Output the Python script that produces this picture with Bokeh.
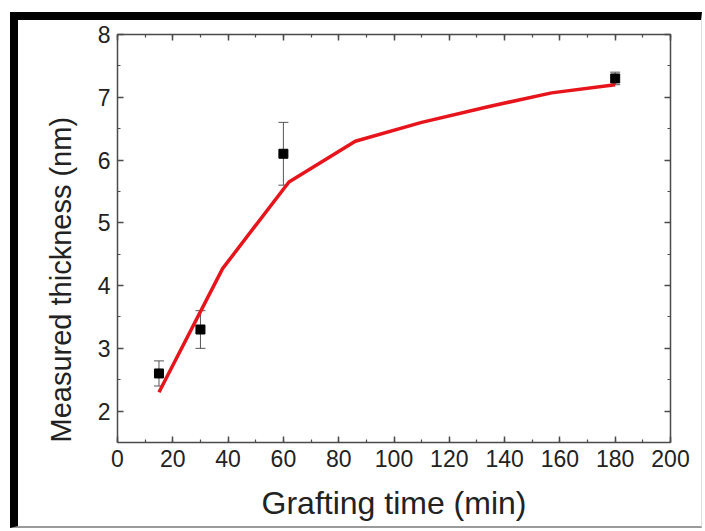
from bokeh.plotting import figure
from bokeh.models import LinearAxis, Range1d, FixedTicker, Whisker, ColumnDataSource, Title
from bokeh.embed import file_html
from bokeh.resources import INLINE

# measured data (squares with error bars)
time_min = [15, 30, 60, 180]
thickness = [2.6, 3.3, 6.1, 7.3]
thickness_err = [0.2, 0.3, 0.5, 0.1]

# fitted curve (red line)
fit_time = [15, 38, 62, 86, 110, 134, 157, 180]
fit_thickness = [2.3, 4.27, 5.65, 6.3, 6.6, 6.85, 7.07, 7.2]

x_ticks = [0, 20, 40, 60, 80, 100, 120, 140, 160, 180, 200]
y_ticks = [2, 3, 4, 5, 6, 7, 8]
x_label = "Grafting time (min)"
y_label = "Measured thickness (nm)"

FONT = "Liberation Sans"
AX = "#4a4a4a"

W, H = 692, 516
p = figure(width=W, height=H, output_backend="svg", toolbar_location=None,
           x_range=Range1d(0, 200), y_range=Range1d(1.5, 8),
           min_border_left=99, min_border_right=40, min_border_top=14, min_border_bottom=94)
# black picture frame on the top and left, as in the reference
p.styles = {"border-top": "8px solid black", "border-left": "8px solid black",
            "border-bottom": "2px solid #9a9a9a", "border-right": "1px solid #dddddd",
            "margin-top": "12px", "margin-left": "10px"}
p.xgrid.visible = False
p.ygrid.visible = False
p.outline_line_color = None
p.background_fill_color = "white"
p.border_fill_color = "white"

def style_axis(ax, show_labels):
    ax.axis_line_color = AX
    ax.axis_line_width = 1.5
    ax.major_tick_line_color = AX
    ax.minor_tick_line_color = AX
    ax.major_tick_line_width = 1.5
    ax.minor_tick_line_width = 1.2
    ax.major_tick_in = 6
    ax.major_tick_out = 0
    ax.minor_tick_in = 3
    ax.minor_tick_out = 0
    ax.major_label_text_font = FONT
    ax.major_label_text_font_size = "23px" if show_labels else "0px"
    ax.major_label_text_color = "#222222" if show_labels else None
    ax.axis_label_text_font = FONT
    ax.axis_label_text_font_size = "32px"
    ax.axis_label_text_font_style = "normal"
    ax.axis_label_text_color = "#222222"

x_minor = list(range(0, 201, 10))
y_minor = [1.5 + 0.5 * i for i in range(14)]

p.xaxis.ticker = FixedTicker(ticks=x_ticks, minor_ticks=x_minor)
p.yaxis.ticker = FixedTicker(ticks=y_ticks, minor_ticks=y_minor)
style_axis(p.xaxis[0], True)
style_axis(p.yaxis[0], True)
p.xaxis.axis_label = x_label
p.xaxis.major_label_standoff = 7
p.yaxis.major_label_standoff = 7
p.xaxis.axis_label_standoff = 15

top = LinearAxis(ticker=FixedTicker(ticks=x_ticks, minor_ticks=x_minor))
right = LinearAxis(ticker=FixedTicker(ticks=y_ticks, minor_ticks=y_minor))
for a in (top, right):
    style_axis(a, False)
p.add_layout(top, "above")
p.add_layout(right, "right")

# y axis title, starting at the bottom of the frame as in the reference
ytitle = Title(text=y_label, align="left", offset=0, standoff=36,
               text_font=FONT, text_font_size="29px", text_font_style="normal",
               text_color="#222222")
p.add_layout(ytitle, "left")

# fit line
p.line(fit_time, fit_thickness, line_color="#e8141c", line_width=3.5)

# error bars
src = ColumnDataSource(dict(x=time_min, y=thickness,
                            lo=[t - e for t, e in zip(thickness, thickness_err)],
                            hi=[t + e for t, e in zip(thickness, thickness_err)]))
w = Whisker(source=src, base="x", lower="lo", upper="hi", line_color="#555555", line_width=1)
w.upper_head.size = 10
w.lower_head.size = 10
w.upper_head.line_color = "#555555"
w.lower_head.line_color = "#555555"
p.add_layout(w)

p.scatter(time_min, thickness, marker="square", size=9, fill_color="black", line_color="black")

open("out.html", "w").write(file_html(p, INLINE))
